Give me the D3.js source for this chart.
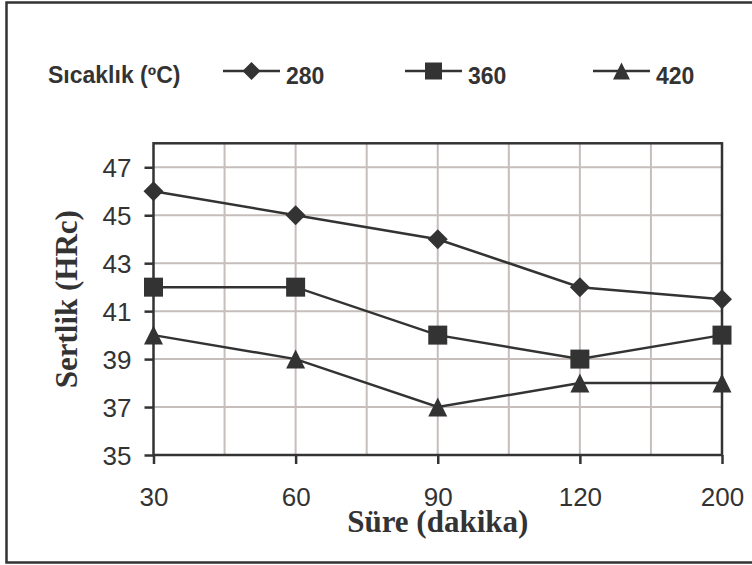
<!DOCTYPE html>
<html>
<head>
<meta charset="utf-8">
<script src="https://cdn.jsdelivr.net/npm/d3@7"></script>
<style>
  html, body { margin: 0; padding: 0; background: #fff; }
  svg { display: block; }
</style>
</head>
<body>
<svg id="chart" width="752" height="565"></svg>
<script>
// Hardness vs. holding time at three temperatures
const categories = ["30", "60", "90", "120", "200"];
const temps = ["280", "360", "420"];
const hard280 = [46, 45, 44, 42, 41.5];
const hard360 = [42, 42, 40, 39, 40];
const hard420 = [40, 39, 37, 38, 38];
const yTicks = [35, 37, 39, 41, 43, 45, 47];

const seriesList = [
  { name: temps[0], values: hard280, shape: "diamond" },
  { name: temps[1], values: hard360, shape: "square" },
  { name: temps[2], values: hard420, shape: "triangle" }
];

const ink = "#333333";
const gridColor = "#c6bebb";
const sans = "'Liberation Sans', Arial, sans-serif";
const serif = "'Liberation Serif', 'Times New Roman', serif";

const svg = d3.select("#chart");

const plot = { left: 153.5, right: 722, top: 143.3, bottom: 455 };

const x = d3.scalePoint().domain(categories).range([plot.left, plot.right]);
const y = d3.scaleLinear().domain([35, 48]).range([plot.bottom, plot.top]);

// outer frame
svg.append("rect")
  .attr("x", 6.5).attr("y", 2.5)
  .attr("width", 760).attr("height", 560)
  .attr("fill", "none").attr("stroke", ink).attr("stroke-width", 2.5);

// marker paths centred on the origin
function markerPath(shape, s) {
  const h = s / 2;
  if (shape === "diamond") return `M0,${-h}L${h},0L0,${h}L${-h},0Z`;
  if (shape === "square") return `M${-h},${-h}H${h}V${h}H${-h}Z`;
  return `M0,${-h}L${h},${h}L${-h},${h}Z`;
}

// gridlines: horizontal at each tick, vertical at categories and halfway between
const g = svg.append("g");
g.selectAll("line.hg").data(yTicks.slice(1)).join("line")
  .attr("x1", plot.left).attr("x2", plot.right)
  .attr("y1", d => y(d)).attr("y2", d => y(d))
  .attr("stroke", gridColor).attr("stroke-width", 2);

const step = x.step();
const vPos = [];
categories.forEach((c, i) => {
  vPos.push(x(c));
  if (i < categories.length - 1) vPos.push(x(c) + step / 2);
});
g.selectAll("line.vg").data(vPos.slice(1, -1)).join("line")
  .attr("x1", d => d).attr("x2", d => d)
  .attr("y1", plot.top).attr("y2", plot.bottom)
  .attr("stroke", gridColor).attr("stroke-width", 2);

// plot frame
svg.append("rect")
  .attr("x", plot.left).attr("y", plot.top)
  .attr("width", plot.right - plot.left).attr("height", plot.bottom - plot.top)
  .attr("fill", "none").attr("stroke", ink).attr("stroke-width", 2.5);

// y axis ticks and labels
const yAxis = d3.axisLeft(y).tickValues(yTicks).tickSize(9).tickPadding(13).tickFormat(d3.format("d"));
const yG = svg.append("g").attr("transform", `translate(${plot.left},0)`).call(yAxis);
yG.select(".domain").remove();
yG.selectAll(".tick line").attr("stroke", ink).attr("stroke-width", 2.5);
yG.selectAll(".tick text")
  .attr("fill", ink).attr("font-family", sans).attr("font-size", 26)
  .attr("dy", "0.36em");

// x axis ticks and labels
const xAxis = d3.axisBottom(x).tickSize(9).tickPadding(0);
const xG = svg.append("g").attr("transform", `translate(0,${plot.bottom})`).call(xAxis);
xG.select(".domain").remove();
xG.selectAll(".tick line").attr("stroke", ink).attr("stroke-width", 2.5);
xG.selectAll(".tick text")
  .attr("fill", ink).attr("font-family", sans).attr("font-size", 26)
  .attr("y", 51).attr("dy", 0);

// series lines and markers
const line = d3.line().x((d, i) => x(categories[i])).y(d => y(d));
seriesList.forEach(s => {
  svg.append("path").datum(s.values)
    .attr("d", line).attr("fill", "none")
    .attr("stroke", ink).attr("stroke-width", 2.5);
  svg.selectAll(null).data(s.values).join("path")
    .attr("transform", (d, i) => `translate(${x(categories[i])},${y(d)})`)
    .attr("d", markerPath(s.shape, s.shape === "diamond" ? 20 : 19))
    .attr("fill", ink);
});

// axis titles
svg.append("text")
  .attr("x", (plot.left + plot.right) / 2).attr("y", 532)
  .attr("text-anchor", "middle")
  .attr("font-family", serif).attr("font-weight", "bold").attr("font-size", 31)
  .attr("fill", ink).text("Süre (dakika)");

svg.append("text")
  .attr("transform", `translate(77,${(plot.top + plot.bottom) / 2}) rotate(-90)`)
  .attr("text-anchor", "middle")
  .attr("font-family", serif).attr("font-weight", "bold").attr("font-size", 31)
  .attr("fill", ink).text("Sertlik (HRc)");

// legend
const legendY = 71;
svg.append("text")
  .attr("x", 48).attr("y", 83)
  .attr("font-family", sans).attr("font-weight", "bold").attr("font-size", 23)
  .attr("fill", ink).text("Sıcaklık (ºC)");

const legendX = [223, 405, 593];
seriesList.forEach((s, i) => {
  const lg = svg.append("g").attr("transform", `translate(${legendX[i]},${legendY})`);
  lg.append("line").attr("x1", 0).attr("x2", 57)
    .attr("stroke", ink).attr("stroke-width", 2.5);
  lg.append("path").attr("transform", "translate(28.5,0)")
    .attr("d", markerPath(s.shape, s.shape === "diamond" ? 18 : 17))
    .attr("fill", ink);
  lg.append("text").attr("x", 63).attr("y", 13)
    .attr("font-family", sans).attr("font-weight", "bold").attr("font-size", 23)
    .attr("fill", ink).text(s.name);
});
</script>
</body>
</html>
